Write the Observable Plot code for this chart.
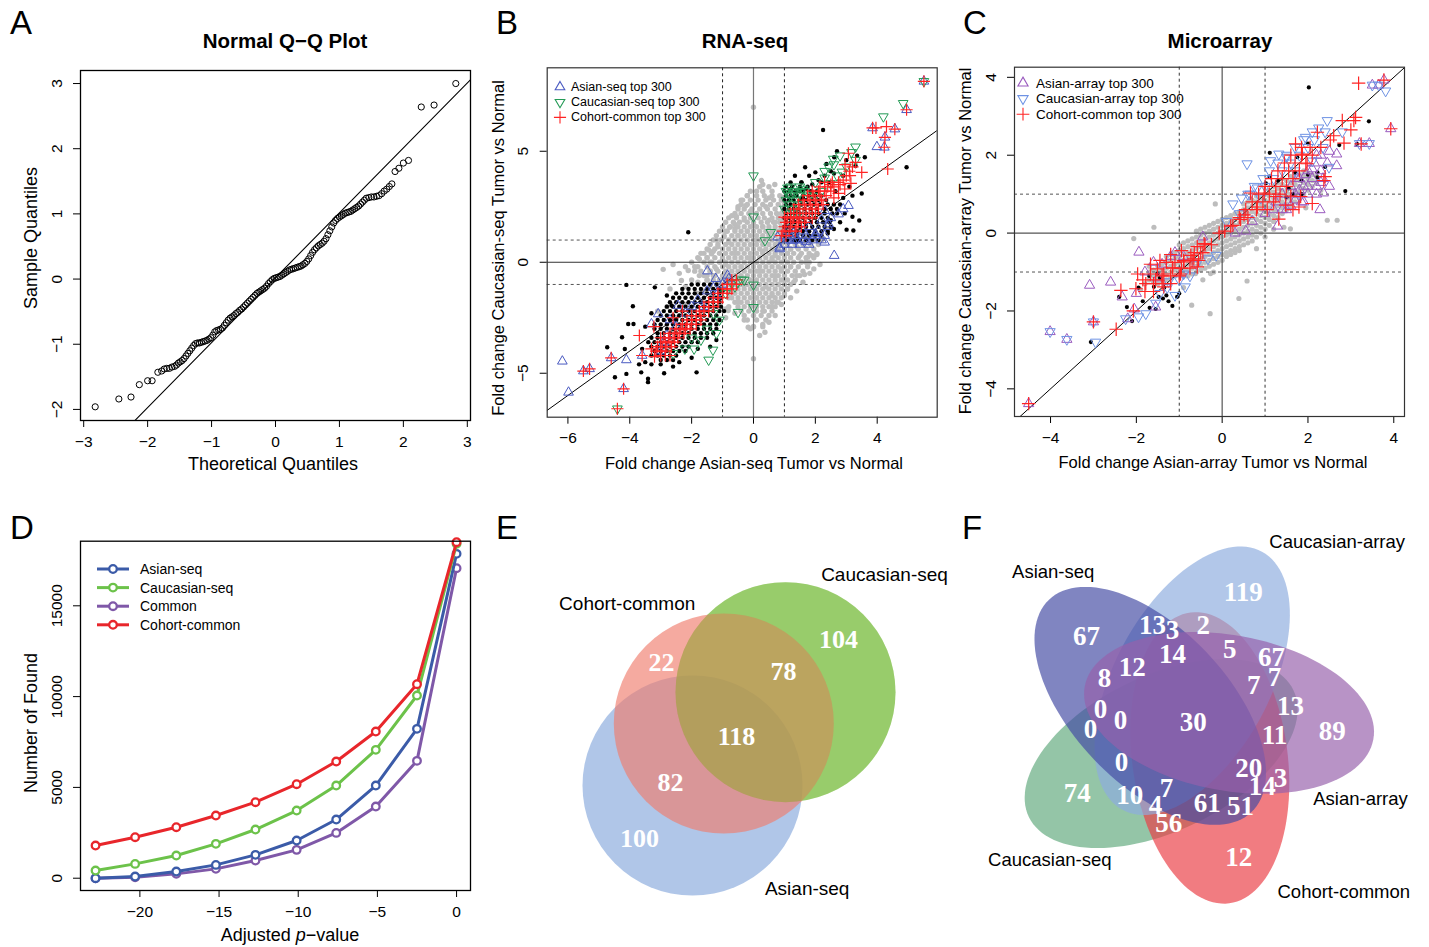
<!DOCTYPE html>
<html><head><meta charset="utf-8">
<script src="https://cdn.jsdelivr.net/npm/d3@7"></script>
<script src="https://cdn.jsdelivr.net/npm/@observablehq/plot@0.6"></script>
<style>
html,body{margin:0;padding:0;background:#fff;}
#root{position:relative;width:1429px;height:947px;overflow:hidden;font-family:"Liberation Sans",Arial,Helvetica,sans-serif;}
</style></head><body><div id="root"></div>
<script>
// ================= DATA =================
// A: Normal Q-Q plot (theoretical, sample)
const qqPoints = "-2.82,-1.96 -2.45,-1.84 -2.26,-1.81 -2.13,-1.62 -2.0,-1.56 -1.93,-1.56 -1.84,-1.43 -1.78,-1.41 -1.74,-1.38 -1.70,-1.37 -1.66,-1.37 -1.62,-1.35 -1.58,-1.34 -1.55,-1.32 -1.52,-1.29 -1.49,-1.27 -1.46,-1.25 -1.43,-1.22 -1.40,-1.18 -1.37,-1.14 -1.34,-1.10 -1.31,-1.06 -1.28,-1.02 -1.25,-0.99 -1.22,-0.98 -1.19,-0.98 -1.16,-0.97 -1.13,-0.96 -1.10,-0.95 -1.07,-0.94 -1.04,-0.92 -1.01,-0.90 -0.98,-0.86 -0.95,-0.81 -0.92,-0.79 -0.89,-0.78 -0.86,-0.77 -0.83,-0.75 -0.80,-0.71 -0.77,-0.67 -0.74,-0.63 -0.71,-0.60 -0.68,-0.58 -0.65,-0.56 -0.62,-0.53 -0.59,-0.51 -0.56,-0.48 -0.53,-0.46 -0.50,-0.43 -0.47,-0.40 -0.44,-0.37 -0.41,-0.34 -0.38,-0.31 -0.35,-0.28 -0.32,-0.25 -0.29,-0.22 -0.26,-0.20 -0.23,-0.18 -0.20,-0.16 -0.17,-0.14 -0.14,-0.11 -0.11,-0.07 -0.08,-0.04 -0.05,-0.01 -0.02,0.01 0.01,0.02 0.04,0.03 0.07,0.04 0.10,0.06 0.13,0.08 0.16,0.10 0.19,0.12 0.22,0.14 0.25,0.15 0.28,0.16 0.31,0.17 0.34,0.18 0.37,0.19 0.40,0.20 0.43,0.22 0.46,0.24 0.49,0.27 0.52,0.31 0.55,0.36 0.58,0.41 0.61,0.45 0.64,0.48 0.67,0.51 0.70,0.53 0.73,0.55 0.76,0.58 0.79,0.62 0.82,0.68 0.85,0.74 0.88,0.80 0.91,0.86 0.94,0.90 0.97,0.93 1.00,0.95 1.03,0.97 1.06,0.99 1.09,1.01 1.12,1.02 1.15,1.03 1.18,1.04 1.21,1.06 1.24,1.08 1.27,1.10 1.30,1.12 1.33,1.15 1.36,1.18 1.39,1.21 1.42,1.24 1.46,1.25 1.50,1.26 1.54,1.26 1.58,1.27 1.62,1.28 1.66,1.31 1.70,1.35 1.74,1.38 1.78,1.42 1.82,1.46 1.87,1.65 1.93,1.70 2.00,1.78 2.08,1.82 2.28,2.64 2.48,2.67 2.82,3.00";
const qqLine = {slope: 0.996, intercept: 0.02};

// B: RNA-seq fold changes (x = Asian-seq, y = Caucasian-seq)
// dense background cloud, written as rows "y:x x x;..."
const grayBRows = "3.4:0.2 0.5;3.2:-0.1 0.3 0.6;3.0:-0.2 0.1 0.35 0.6 0.85;2.8:-0.35 -0.1 0.15 0.4 0.65 0.9;2.6:-0.4 -0.2 0.05 0.3 0.55 0.8 1.0;2.4:-0.5 -0.3 -0.05 0.2 0.45 0.7 0.95;2.2:-0.6 -0.4 -0.15 0.1 0.3 0.55 0.75 0.95;2.0:-0.8 -0.55 -0.3 -0.1 0.15 0.35 0.6 0.8 1.0;1.8:-0.9 -0.65 -0.45 -0.2 0.0 0.25 0.45 0.65 0.85 1.05;1.6:-1.0 -0.75 -0.5 -0.3 -0.1 0.1 0.3 0.5 0.7 0.9 1.1;1.4:-1.1 -0.85 -0.6 -0.4 -0.2 0.0 0.2 0.4 0.6 0.8 1.0 1.2;1.2:-1.2 -0.95 -0.7 -0.5 -0.3 -0.1 0.1 0.3 0.5 0.7 0.9 1.1 1.35;1.0:-1.3 -1.05 -0.8 -0.6 -0.4 -0.2 0.0 0.2 0.4 0.6 0.8 1.0 1.25 1.5 1.75 2.0;0.8:-1.4 -1.15 -0.9 -0.7 -0.5 -0.3 -0.1 0.1 0.3 0.5 0.7 0.9 1.1 1.35 1.6 1.85 2.1;0.6:-1.5 -1.25 -1.0 -0.8 -0.6 -0.4 -0.2 0.0 0.2 0.4 0.6 0.8 1.0 1.2 1.45 1.7 1.95;0.4:-1.6 -1.35 -1.1 -0.9 -0.7 -0.5 -0.3 -0.1 0.1 0.3 0.5 0.7 0.9 1.1 1.3 1.55 1.8 2.05;0.2:-1.8 -1.5 -1.25 -1.0 -0.8 -0.6 -0.4 -0.2 0.0 0.2 0.4 0.6 0.8 1.0 1.2 1.45 1.7 1.95;0.0:-2.0 -1.6 -1.35 -1.1 -0.9 -0.7 -0.5 -0.3 -0.1 0.1 0.3 0.5 0.7 0.9 1.1 1.3 1.55 1.8;-0.2:-2.2 -1.8 -1.5 -1.25 -1.0 -0.8 -0.6 -0.4 -0.2 0.0 0.2 0.4 0.6 0.8 1.0 1.2 1.45 1.75;-0.4:-1.9 -1.7 -1.4 -1.15 -0.9 -0.7 -0.5 -0.3 -0.1 0.1 0.3 0.5 0.7 0.9 1.1 1.35 1.6;-0.6:-1.75 -1.5 -1.25 -1.0 -0.8 -0.6 -0.4 -0.2 0.0 0.2 0.4 0.6 0.8 1.0 1.25 1.5;-0.8:-1.5 -1.3 -1.1 -0.9 -0.7 -0.5 -0.3 -0.1 0.1 0.3 0.5 0.7 0.9 1.1 1.35;-1.0:-1.0 -0.8 -0.6 -0.4 -0.2 0.0 0.2 0.4 0.6 0.8 1.0 1.2;-1.2:-0.9 -0.7 -0.5 -0.3 -0.1 0.1 0.3 0.5 0.7 0.9 1.1;-1.4:-0.8 -0.6 -0.4 -0.2 0.0 0.2 0.4 0.6 0.8 1.0;-1.6:-0.7 -0.5 -0.3 -0.1 0.1 0.3 0.5 0.7 0.9;-1.8:-0.6 -0.4 -0.2 0.0 0.2 0.4 0.6 0.8;-2.0:-0.8 -0.5 -0.3 -0.1 0.1 0.3 0.5 0.7;-2.2:-0.4 -0.15 0.1 0.35 0.6;-2.4:-0.3 0.0 0.25 0.5;-2.6:-0.2 0.1 0.4;-2.9:0.0 0.3";
const grayB = "0.0,6.98 0.0,-4.35 0.37,-3.15 -0.1,0.2 0.3,0.5 -0.4,-0.2 0.6,0.1 0.2,-0.4 -0.6,0.4 0.8,0.9 -0.9,-0.6 1.1,0.4 -0.3,-1.0 0.5,1.3 -1.2,-0.3 0.9,-0.3 -0.7,-1.3 0.1,1.0 1.3,1.1 -1.4,-1.1 0.4,-1.1 -0.2,1.4 1.0,-0.8 -1.0,0.1 -0.8,0.9 1.2,-0.2 0.7,0.3 -0.5,-0.7 -0.9,-0.1 1.0,1.2 -1.1,-0.9 1.4,0.7 -1.3,-0.6 0.9,1.5 1.2,0.6 -1.0,-1.2 0.3,1.6 0.7,-0.6 -0.5,1.2 1.5,1.3 -1.5,-0.8 1.6,0.9 -1.6,-1.3 0.0,1.7 0.5,1.9 1.2,1.6 -0.3,1.9 1.7,1.2 -1.4,-0.4 -0.6,1.5 0.9,1.9 -1.3,-1.5 -0.5,-1.8 0.7,1.8 -1.6,-0.6 1.5,0.3 -1.1,-1.7 0.9,2.2 -1.8,-1.4 1.6,1.4 0.6,-1.5 0.4,2.5 -1.3,0.5 1.4,-0.6 -0.9,-2.1 0.1,-1.6 -0.1,2.3 -2.0,-0.8 1.7,0.0 0.3,-2.2 -0.6,1.7 1.0,2.7 -2.2,-1.9 0.8,-1.0 -1.5,0.2 -0.4,2.8 -2.4,-0.5 -2.6,-0.1 -2.92,-0.32 -2.11,-0.37 -2.33,-0.82 -1.9,-0.2 -1.7,0.4 -1.36,0.38 -1.2,1.0 -0.9,1.4 -0.77,1.58 -0.7,2.1 -0.5,2.5 -0.2,3.0 0.1,3.2 0.3,3.5 0.69,3.5 0.91,2.93 0.5,2.9 0.26,3.68 1.82,-0.5 1.76,0.24 1.98,1.2 1.6,-0.9 1.4,-1.3 1.2,-1.6 1.1,-1.2 0.9,-1.9 0.7,-2.4 0.5,-2.7 0.6,-2.0 0.2,-3.3 -0.1,-3.0 0.3,-2.8 2.2,1.0 1.9,0.3 2.4,1.5 1.3,-0.9 -1.4,0.0 -1.8,-0.9 -2.2,-1.1 -0.6,-2.3 -0.3,-2.6 0.0,-2.9 -0.8,-1.6 -1.7,-1.7 -2.0,-2.2 -2.5,-2.5 -2.8,-2.0 -2.3,-2.9 -1.2,-2.0 -0.9,-2.5 -2.7,-1.2 -3.1,-2.2 -2.6,-3.1 -0.82,-2.17 -0.17,-2.93 -1.15,0.7 -1.45,0.55 -1.75,0.15 -0.95,1.15 -0.55,2.05 -0.25,2.55 2.05,0.35 2.15,-0.1 1.95,-0.3 1.65,-0.55 1.0,-1.5 0.75,-1.8";
const blackBRows = "3.6:1.2 1.55 2.2 2.45;3.4:1.05 1.25 1.5 1.75;3.2:1.0 1.15 1.35 1.6 1.85 2.05;3.0:1.05 1.2 1.4 1.6 1.8 2.0 2.2;2.8:1.0 1.15 1.3 1.5 1.7 1.9 2.1 2.35;2.6:1.05 1.2 1.35 1.55 1.75 1.95 2.15 2.4 2.6;2.4:1.0 1.15 1.3 1.45 1.65 1.85 2.05 2.3 2.5 2.7;2.2:1.05 1.2 1.35 1.5 1.7 1.9 2.1 2.3 2.55;2.0:1.0 1.15 1.3 1.45 1.6 1.8 2.0 2.2 2.4;1.8:1.05 1.2 1.35 1.5 1.65 1.85 2.05 2.25 2.45;1.6:1.0 1.15 1.3 1.5 1.7 1.9 2.1 2.3 2.5;1.4:1.05 1.2 1.4 1.6 1.8 2.0 2.2 2.4;1.2:1.0 1.2 1.4 1.6 1.8 2.0 2.2;1.0:1.1 1.3 1.5 1.7 1.9 2.1;-1.0:-2.0 -1.8 -1.6 -1.4 -1.2;-1.2:-2.3 -2.1 -1.9 -1.7 -1.5 -1.3 -1.1;-1.4:-2.5 -2.3 -2.1 -1.9 -1.7 -1.5 -1.3 -1.1;-1.6:-2.6 -2.4 -2.2 -2.0 -1.8 -1.6 -1.4 -1.2 -1.05;-1.8:-2.7 -2.5 -2.3 -2.1 -1.9 -1.7 -1.5 -1.3 -1.1;-2.0:-2.8 -2.6 -2.4 -2.2 -2.0 -1.8 -1.6 -1.4 -1.2 -1.05;-2.2:-2.9 -2.7 -2.5 -2.3 -2.1 -1.9 -1.7 -1.5 -1.3 -1.1;-2.4:-3.0 -2.8 -2.6 -2.4 -2.2 -2.0 -1.8 -1.6 -1.4 -1.2;-2.6:-3.1 -2.9 -2.7 -2.5 -2.3 -2.1 -1.9 -1.7 -1.5 -1.3 -1.1;-2.8:-3.2 -3.0 -2.8 -2.6 -2.4 -2.2 -2.0 -1.8 -1.6 -1.4 -1.2;-3.0:-3.2 -3.0 -2.8 -2.6 -2.4 -2.2 -2.0 -1.8 -1.6 -1.4 -1.2;-3.2:-3.1 -2.9 -2.7 -2.5 -2.3 -2.1 -1.9 -1.7 -1.5 -1.3;-3.4:-3.3 -3.1 -2.9 -2.7 -2.5 -2.3 -2.1 -1.9 -1.7 -1.5;-3.6:-3.2 -3.0 -2.8 -2.6 -2.4 -2.2 -2.0 -1.8;-3.8:-3.3 -3.1 -2.9 -2.7 -2.5 -2.3 -2.1;-4.0:-3.2 -3.0 -2.8 -2.6 -2.4;-4.2:-3.3 -3.1 -2.9 -2.7 -2.5;-4.4:-3.0 -2.8 -2.6";
const blackB = "1.05,1.6 1.15,2.8 1.2,3.3 1.35,3.0 1.5,3.2 1.4,1.2 2.4,1.3 2.6,1.5 2.5,1.9 2.7,2.2 2.8,2.6 1.6,2.9 1.7,3.3 1.9,3.5 2.1,3.7 1.8,3.9 2.0,4.05 1.67,4.28 2.36,4.43 2.61,4.73 2.5,4.1 2.9,3.9 3.1,3.4 3.3,4.35 3.6,4.73 3.0,4.6 2.7,5.0 2.25,5.96 4.95,4.28 1.34,3.9 3.42,1.88 3.01,1.47 3.23,1.43 3.2,2.05 2.9,2.9 3.2,3.0 2.65,3.2 1.4,0.95 2.8,1.8 3.5,3.1 2.95,2.2 1.55,3.6 3.35,4.8 2.3,3.9 2.6,4.0 -3.19,-1.13 -2.65,-1.95 -2.11,1.35 -4.11,-1.02 -3.9,-1.98 -4.05,-2.78 -3.88,-2.78 -4.25,-3.38 -4.73,-3.83 -4.16,-3.91 -4.48,-5.18 -4.11,-5.03 -3.63,-4.96 -3.41,-5.25 -3.41,-5.4 -2.89,-5.0 -1.84,-4.96 -3.5,-4.5 -3.3,-4.6 -3.6,-3.9 -3.4,-3.6 -2.4,-4.5 -2.0,-4.3 -1.8,-3.9 -3.0,-4.6 -2.6,-4.7 -3.7,-4.6 -1.0,-1.3 -0.95,-2.2 -3.3,-2.3 -2.8,-1.5 -3.5,-2.9 -1.4,-3.8 -1.2,-3.5 -2.2,-4.0";
const blueBRows = "1.6:1.8 2.4;1.4:1.1 1.6 2.1;1.2:1.0 1.35 1.7 2.0 2.3;1.0:1.1 1.4 1.6 1.9 2.2;0.8:1.0 1.25 1.5 1.8;0.6:0.85";
const blueB = "-6.18,-4.46 -5.98,-5.86 -4.11,-4.4 2.61,0.3 3.99,5.2 -1.49,-0.4 -1.22,-0.74 -0.84,-0.59 -3.08,-2.33 -3.3,-2.78 -2.44,-1.95 0.84,0.67 0.78,1.13 1.27,0.98 1.7,0.92 2.0,1.28 2.43,1.72 2.75,2.17 3.07,2.55 1.3,1.3 2.3,2.32 2.9,2.4 2.2,1.9 2.5,2.0 -3.6,-4.2 -4.6,-4.31 -2.0,-2.0 -1.8,-1.7 -2.5,-2.9 -2.8,-3.3 -3.0,-4.0 5.51,8.15 4.95,6.87 4.25,5.63 4.23,5.18 4.57,6.0 3.85,6.05 -5.5,-4.9 -5.3,-4.8 -4.2,-5.7 -1.0,-1.0 -0.8,-0.75 -1.3,-1.15 2.3,0.9 -1.5,-1.3 -2.2,-2.3 -2.7,-2.6 -1.2,-1.5 -2.9,-3.6 -1.6,-2.0";
const greenBRows = "3.4:1.2 1.5;3.2:1.05 1.35 1.65;3.0:1.2 1.45;2.8:1.05 1.35;2.6:1.15 1.45;2.4:1.0 1.25;2.3:1.5";
const greenB = "4.84,7.16 4.2,6.56 0.0,3.9 0.0,2.05 0.0,-1.02 0.0,-2.03 0.37,0.98 0.56,1.35 -0.5,-2.25 -0.39,-0.79 -1.45,-4.4 -1.31,-3.95 -1.92,-3.9 -2.22,-3.9 1.12,3.1 1.3,3.1 1.5,3.15 1.28,2.2 1.99,2.98 2.58,4.65 2.8,4.8 3.17,4.95 2.86,4.07 2.43,4.3 2.49,3.55 2.7,3.9 3.0,4.3 1.6,3.3 1.8,3.0 2.2,3.2 2.0,3.6 2.3,4.1 2.6,4.4 3.3,5.2 -0.7,-0.95 -0.6,-1.1 -0.5,-0.9 -0.3,-0.8 -1.2,-3.2 -1.5,-3.0 -1.7,-3.5 -2.6,-4.1 -4.4,-6.6 5.51,8.15 1.1,3.35 2.3,3.8 3.3,4.6 -0.9,-1.4 -1.1,-2.6 -1.3,-2.3 -2.0,-3.4";
const redBRows = "3.6:2.3 2.55 2.75;3.4:2.15 2.4 2.6;3.2:1.9 2.1 2.3 2.5;3.0:1.75 1.95 2.15 2.35;2.8:1.6 1.8 2.0 2.2;2.6:1.45 1.65 1.85 2.05 2.25;2.4:1.3 1.5 1.7 1.9 2.1;2.2:1.2 1.4 1.6 1.8 2.0;2.0:1.1 1.3 1.5 1.7 1.9;1.8:1.05 1.25 1.45 1.65;1.6:1.0 1.2 1.4 1.55;1.4:0.95 1.15 1.35;1.2:0.9 1.05;-0.8:-0.7 -0.55;-1.0:-0.85 -0.7 -0.55;-1.2:-1.0 -0.85 -0.7;-1.4:-1.15 -1.0 -0.85;-1.6:-1.3 -1.15 -1.0;-1.8:-1.45 -1.3 -1.15;-2.0:-1.6 -1.45 -1.3;-2.2:-1.75 -1.6 -1.45;-2.4:-2.0 -1.85 -1.7;-2.6:-2.15 -2.0 -1.85 -1.7;-2.8:-2.3 -2.15 -2.0 -1.85;-3.0:-2.5 -2.35 -2.2 -2.05;-3.2:-2.7 -2.55 -2.4 -2.25;-3.4:-2.9 -2.75 -2.6 -2.45;-3.6:-3.0 -2.85 -2.7 -2.55;-3.8:-3.1 -2.95 -2.8 -2.65;-4.0:-3.15 -3.0 -2.85;-4.2:-3.0 -2.85 -2.7";
const redB = "2.8,3.5 2.9,3.7 3.0,3.9 3.1,4.1 3.2,4.3 3.3,4.5 2.75,3.1 2.95,3.3 3.15,3.55 2.6,2.9 3.07,4.91 3.5,4.05 2.96,4.4 3.12,3.9 2.5,3.5 5.51,8.15 4.95,6.87 3.85,6.05 3.96,6.05 4.3,6.11 4.57,6.0 4.25,5.63 4.23,5.18 4.34,4.2 1.0,2.03 1.2,2.03 1.4,2.03 -3.2,-4.25 -3.0,-3.4 -4.4,-6.6 -4.2,-5.7 -5.5,-4.9 -5.3,-4.8 -3.69,-3.3 -4.6,-4.31 -3.22,-2.9 -3.6,-4.2 -3.3,-3.9 -2.6,-2.5 -2.3,-2.2";
const diagB = {slope: 1, intercept: 0};

// C: Microarray fold changes (x = Asian-array, y = Caucasian-array)
// dense background band, written as columns "x:y y y;..."
const grayCCols = "-1.7:-1.2 -1.0;-1.6:-1.25 -1.1 -0.95;-1.5:-1.3 -1.15 -1.0 -0.85;-1.4:-1.25 -1.1 -0.95 -0.8;-1.3:-1.2 -1.05 -0.9 -0.75 -0.6;-1.2:-1.15 -1.0 -0.85 -0.7 -0.55;-1.1:-1.1 -0.95 -0.8 -0.65 -0.5;-1.0:-1.05 -0.9 -0.75 -0.6 -0.45 -0.3;-0.9:-1.1 -0.95 -0.85 -0.7 -0.55 -0.4 -0.25;-0.8:-1.1 -0.95 -0.8 -0.65 -0.5 -0.35 -0.2;-0.7:-1.05 -0.9 -0.75 -0.6 -0.45 -0.3 -0.15;-0.6:-1.0 -0.85 -0.7 -0.55 -0.4 -0.25 -0.1 0.05;-0.5:-0.95 -0.8 -0.65 -0.5 -0.35 -0.2 -0.05 0.1;-0.4:-0.9 -0.75 -0.6 -0.45 -0.3 -0.15 0.0 0.15;-0.3:-0.85 -0.7 -0.55 -0.4 -0.25 -0.1 0.05 0.2;-0.2:-0.8 -0.65 -0.5 -0.35 -0.2 -0.05 0.1 0.25;-0.1:-0.75 -0.6 -0.45 -0.3 -0.15 0.0 0.15 0.3;0.0:-0.7 -0.55 -0.4 -0.25 -0.1 0.05 0.2 0.35;0.1:-0.6 -0.5 -0.35 -0.2 -0.05 0.1 0.25 0.4;0.2:-0.55 -0.45 -0.3 -0.15 0.0 0.15 0.3 0.45;0.3:-0.5 -0.4 -0.25 -0.1 0.05 0.2 0.35 0.5;0.4:-0.45 -0.35 -0.2 -0.05 0.1 0.25 0.4 0.55;0.5:-0.3 -0.15 0.0 0.15 0.3 0.45 0.6 0.75;0.6:-0.25 -0.1 0.05 0.2 0.35 0.5 0.65 0.8;0.7:-0.2 -0.05 0.1 0.25 0.4 0.55 0.7 0.85;0.8:-0.1 0.05 0.2 0.35 0.5 0.65 0.8 0.95;0.9:0.0 0.15 0.3 0.45 0.6 0.75 0.9;1.0:0.1 0.25 0.4 0.55 0.7 0.85 1.0;1.1:0.2 0.35 0.5 0.65 0.8 0.95 1.1;1.2:0.3 0.45 0.6 0.75 0.9 1.05 1.2;1.3:0.4 0.55 0.7 0.85 1.0 1.15 1.3;1.4:0.5 0.65 0.8 0.95 1.1 1.25 1.4;1.5:0.6 0.75 0.9 1.05 1.2 1.35;1.6:0.7 0.85 1.0 1.15 1.3 1.45;1.7:0.8 0.95 1.1 1.25 1.4 1.55;1.8:0.9 1.05 1.2 1.35 1.5;1.9:1.0 1.15 1.3 1.45 1.6;2.0:1.1 1.25 1.4 1.55;2.1:1.2 1.35 1.5;2.2:1.3 1.45";
const grayC = "-2.06,-0.14 -1.59,0.15 1.59,0.11 1.44,0.15 2.45,0.33 2.68,0.33 0.39,-1.68 0.58,-1.23 -0.28,-2.07 -0.71,-1.85 -0.16,0.75 -0.27,-1.04 -0.62,-1.04 -1.8,-1.3 -1.7,-0.85 1.95,0.65 2.3,1.1 0.8,-0.4 -0.2,-1.0 -1.9,-1.45 1.2,0.1 -0.45,-1.2 -0.9,-1.4 1.0,-0.1";
const blackC = "2.02,3.74 3.42,2.87 2.87,1.08 1.11,2.06 2.73,2.26 3.14,2.29 2.22,1.43 2.22,1.56 2.0,1.5 1.85,1.35 1.5,0.92 1.65,1.0 1.85,1.0 1.02,1.28 1.1,1.45 1.3,1.35 1.55,1.15 1.7,1.55 2.4,1.7 2.0,2.3 1.75,1.95 -3.06,-2.8 -2.4,-1.64 -2.22,-1.9 -2.1,-2.26 -1.69,-1.92 -1.48,-1.64 -1.38,-1.68 -1.3,-1.6 -1.16,-1.87 -1.05,-1.64 -1.59,-1.38 -1.51,-1.04 -1.45,-1.15 -1.7,-1.1 -1.25,-1.75 -1.85,-1.75 -1.55,-1.95 -1.0,-1.55 -1.95,-1.4 -1.35,-1.4";
const purpleCRows = "1.2:1.6 1.9 2.2;1.0:1.4 1.7 2.0;0.8:1.25 1.55 1.85;0.6:1.2 1.5;1.4:1.8 2.1 2.35;1.6:2.0 2.3;1.8:2.15 2.45;2.0:2.3";
const purpleC = "-1.94,-0.49 -3.09,-1.34 -2.6,-1.26 -2.33,-1.64 2.67,1.73 2.67,2.03 2.36,1.03 2.28,0.6 1.29,0.18 0.55,0.05 3.93,2.68 3.77,3.93 3.65,3.8 3.5,3.8 -3.0,-2.28 -4.01,-2.53 -3.62,-2.73 -4.51,-4.38 3.2,2.3 3.43,2.3 1.8,1.1 2.0,1.2 1.9,0.8 1.6,0.7 1.7,0.85 2.2,1.0 2.3,1.3 2.5,1.2 1.4,0.6 1.0,0.5 0.7,0.3 0.3,0.0 -0.45,-0.1 -1.2,-0.6 -1.4,-0.8 -1.6,-0.75 -1.5,-1.15 -1.1,-0.5 -0.9,-0.6 -1.8,-1.0 -2.0,-1.55 -1.55,-1.9 -2.2,-2.2 -2.05,-1.95 1.95,1.5 2.1,1.65 2.5,2.1 2.2,2.0 1.75,1.4";
const lightblueCRows = "2.4:1.9 2.15;2.2:1.7 2.0;2.0:1.5 1.8;1.8:1.3 1.6;1.6:1.1 1.4;1.4:0.95 1.2;1.2:0.75 1.0;1.0:0.6;2.6:2.1 2.4";
const lightblueC = "2.45,2.89 2.25,2.7 1.94,2.46 0.58,1.78 1.32,2.03 1.13,1.86 1.5,1.95 2.49,1.69 0.25,0.75 0.45,0.9 0.65,1.0 0.82,1.16 -0.33,-0.66 -0.14,-0.57 -0.86,-1.38 -1.0,-1.2 -1.78,-2.07 -1.95,-2.15 -1.55,-1.8 -1.28,-1.4 -2.95,-2.8 3.81,3.65 3.65,3.8 3.5,3.8 -3.0,-2.28 -4.01,-2.53 -3.62,-2.73 -2.25,-2.2 3.2,2.3 3.43,2.3 2.8,2.6 0.9,0.9 0.4,0.5 0.1,0.3 -0.6,-0.8 -0.75,-1.1 -1.1,-1.6 -1.45,-1.55 2.1,1.85 2.35,2.2 1.7,1.6 -0.9,-1.05 -1.25,-1.25";
const redCRows = "2.2:1.85 2.05 2.3;2.0:1.6 1.85 2.1;1.8:1.45 1.7 1.95;1.6:1.3 1.55 1.8;1.4:1.15 1.4 1.65;1.2:1.0 1.25 1.5;1.0:0.85 1.1 1.35;0.8:0.7 0.95 1.2;0.6:0.55 0.8;0.4:0.4 0.6;0.2:0.25;-0.3:-0.4 -0.25;-0.5:-0.65 -0.45;-0.7:-0.9 -0.7 -0.55;-0.9:-1.15 -0.95 -0.75;-1.1:-1.4 -1.2 -1.0;-1.3:-1.6 -1.4 -1.2;-1.5:-1.8 -1.6";
const redC = "3.18,3.85 3.77,3.93 3.93,2.68 3.07,2.89 2.8,2.89 3.0,2.65 3.11,2.97 2.84,2.31 3.24,2.29 2.52,2.39 2.22,2.59 2.6,2.5 1.71,2.29 1.87,2.03 1.98,1.78 2.37,1.35 2.4,1.45 2.1,0.76 1.79,0.67 1.48,0.72 1.25,0.94 0.98,1.03 1.05,0.6 1.32,0.36 0.82,0.67 0.66,1.03 0.51,0.47 0.43,0.35 0.2,0.18 -0.07,0.0 0.06,0.05 1.6,0.95 1.83,0.94 1.65,0.6 -0.42,-0.27 -0.58,-0.35 -0.73,-0.57 -0.89,-0.74 -1.16,-0.89 -1.2,-0.55 -1.36,-1.05 -1.51,-0.92 -1.67,-1.05 -1.78,-1.3 -1.97,-1.05 -2.01,-1.43 -2.36,-1.47 -1.85,-1.2 -1.36,-1.38 -0.97,-1.05 -0.66,-0.66 -0.58,-0.87 -1.1,-0.75 -1.3,-0.75 -1.67,-0.8 -1.45,-0.7 -2.07,-2.0 -2.47,-2.47 -4.51,-4.38 -3.0,-2.28 -1.55,-1.2 -0.95,-0.45 -0.5,-0.5";
const diagC = {slope: 1, intercept: 0};

// D: number found vs adjusted p-value
const pAdjusted = [-22.8, -20.3, -17.7, -15.2, -12.7, -10.1, -7.6, -5.1, -2.5, 0];
const foundAsianSeq = [0, 92, 367, 734, 1285, 2074, 3231, 5103, 8223, 17860];
const foundCaucasianSeq = [422, 789, 1248, 1891, 2680, 3726, 5103, 7067, 10059, 18410];
const foundCommon = [0, 55, 239, 514, 973, 1560, 2496, 3946, 6461, 17070];
const foundCohortCommon = [1799, 2258, 2808, 3451, 4185, 5176, 6424, 8076, 10683, 18502];
const seriesNamesD = ["Asian-seq", "Caucasian-seq", "Common", "Cohort-common"];

// E: 3-set Venn
const setsE = ["Asian-seq", "Cohort-common", "Caucasian-seq"];
const countsE = [100, 82, 22, 118, 78, 104];

// F: 5-set Venn
const setsF = ["Caucasian-seq", "Cohort-common", "Caucasian-array", "Asian-seq", "Asian-array"];
const countsF = ["119","67","13","3","2","14","5","67","7","7","12","8","0","0","0","30","13","11","89","0","20","14","3","74","10","7","4","56","61","51","12"];

// ================= LAYOUT / STYLE =================
const root = document.getElementById("root");
const fmt = d3.format("d");
const pts = s => s.trim().split(/\s+/).map(p => { const [x, y] = p.split(",").map(Number); return {x, y}; });
const rowsY = s => s.split(";").flatMap(r => { const [y, xs] = r.split(":"); return xs.trim().split(/\s+/).map(x => ({x: +x, y: +y})); });
const colsX = s => s.split(";").flatMap(c => { const [x, ys] = c.split(":"); return ys.trim().split(/\s+/).map(y => ({x: +x, y: +y})); });
const fitLine = (fit, dom) => dom.map(x => ({x, y: fit.intercept + fit.slope * x}));
function put(el, left, top) { el.style.position = "absolute"; el.style.left = left + "px"; el.style.top = top + "px"; root.appendChild(el); }
const baseStyle = {background: "transparent", fontFamily: "Liberation Sans, Arial, sans-serif", fontSize: "15.5px", color: "black", overflow: "visible"};
const ax = (ticks) => Plot.axisX({ticks, tickSize: 7, tickPadding: 8, tickFormat: fmt, label: null});
const ay = (ticks) => Plot.axisY({ticks, tickSize: 7, tickPadding: 12, tickRotate: -90, tickFormat: fmt, label: null});

// ---- A ----
const xA = [-3.05, 3.05], yA = [-2.17, 3.2];
put(Plot.plot({
  width: 480, height: 480, marginLeft: 80, marginRight: 10, marginTop: 70, marginBottom: 60,
  x: {domain: xA}, y: {domain: yA}, style: baseStyle,
  marks: [
    Plot.line(fitLine(qqLine, xA), {x: "x", y: "y", stroke: "black", strokeWidth: 1.1, clip: true}),
    Plot.dot(pts(qqPoints), {x: "x", y: "y", r: 3.1, stroke: "black", strokeWidth: 1, fill: "none"}),
    ax([-3, -2, -1, 0, 1, 2, 3]), ay([-2, -1, 0, 1, 2, 3]),
    Plot.frame({stroke: "black", strokeWidth: 1.3})
  ]
}), 0, 0);

// ---- B ----
const colB = {blue: "#4a5ac2", green: "#239a55", red: "#ff2424"};
const xB = [-6.67, 5.94], yB = [-6.98, 8.76];
put(Plot.plot({
  width: 470, height: 480, marginLeft: 66.7, marginRight: 13.3, marginTop: 67.3, marginBottom: 63.3,
  x: {domain: xB}, y: {domain: yB}, style: baseStyle,
  marks: [
    Plot.dot(rowsY(grayBRows).concat(pts(grayB)), {x: "x", y: "y", r: 2.7, fill: "#bdbdbd"}),
    Plot.ruleX([0], {stroke: "#777", strokeWidth: 1.2}),
    Plot.ruleY([0], {stroke: "#333", strokeWidth: 1}),
    Plot.ruleX([-1, 1], {stroke: "#222", strokeDasharray: "3,3"}),
    Plot.ruleY([-1, 1], {stroke: "#555", strokeDasharray: "3,3"}),
    Plot.line(fitLine(diagB, xB), {x: "x", y: "y", stroke: "black", strokeWidth: 1, clip: true}),
    Plot.dot(rowsY(blackBRows).concat(pts(blackB)), {x: "x", y: "y", r: 2.2, fill: "black"}),
    Plot.dot(rowsY(blueBRows).concat(pts(blueB)), {x: "x", y: "y", symbol: "triangle", r: 3.6, fill: "none", stroke: colB.blue, strokeWidth: 1}),
    Plot.dot(rowsY(greenBRows).concat(pts(greenB)), {x: "x", y: "y", symbol: "triangle", rotate: 180, r: 3.6, fill: "none", stroke: colB.green, strokeWidth: 1}),
    Plot.dot(rowsY(redBRows).concat(pts(redB)), {x: "x", y: "y", symbol: "plus", r: 4, fill: "none", stroke: colB.red, strokeWidth: 1.2}),
    ax([-6, -4, -2, 0, 2, 4]), ay([-5, 0, 5]),
    Plot.frame({stroke: "#333", strokeWidth: 1.2})
  ]
}), 480, 0);

// ---- C ----
const colC = {purple: "#9a5bbf", lightblue: "#6e92e4", red: "#ff2424"};
const xC = [-4.84, 4.25], yC = [-4.71, 4.26];
put(Plot.plot({
  width: 479, height: 480, marginLeft: 64, marginRight: 25, marginTop: 66.7, marginBottom: 64,
  x: {domain: xC}, y: {domain: yC}, style: baseStyle,
  marks: [
    Plot.dot(colsX(grayCCols).concat(pts(grayC)), {x: "x", y: "y", r: 2.6, fill: "#bdbdbd"}),
    Plot.ruleX([0], {stroke: "#555", strokeWidth: 1.2}),
    Plot.ruleY([0], {stroke: "#555", strokeWidth: 1.2}),
    Plot.ruleX([-1, 1], {stroke: "#333", strokeDasharray: "3,3"}),
    Plot.ruleY([-1, 1], {stroke: "#555", strokeDasharray: "3,3"}),
    Plot.line(fitLine(diagC, xC), {x: "x", y: "y", stroke: "black", strokeWidth: 1, clip: true}),
    Plot.dot(pts(blackC), {x: "x", y: "y", r: 2.1, fill: "black"}),
    Plot.dot(rowsY(purpleCRows).concat(pts(purpleC)), {x: "x", y: "y", symbol: "triangle", r: 3.8, fill: "none", stroke: colC.purple, strokeWidth: 1}),
    Plot.dot(rowsY(lightblueCRows).concat(pts(lightblueC)), {x: "x", y: "y", symbol: "triangle", rotate: 180, r: 3.8, fill: "none", stroke: colC.lightblue, strokeWidth: 1}),
    Plot.dot(rowsY(redCRows).concat(pts(redC)), {x: "x", y: "y", symbol: "plus", r: 4.4, fill: "none", stroke: colC.red, strokeWidth: 1.2}),
    ax([-4, -2, 0, 2, 4]), ay([-4, -2, 0, 2, 4]),
    Plot.frame({stroke: "#333", strokeWidth: 1.2})
  ]
}), 950, 0);

// ---- D ----
const colD = {"Asian-seq": "#3b5ba8", "Caucasian-seq": "#6cc24a", "Common": "#7f58a8", "Cohort-common": "#e8262b"};
const valuesD = {"Asian-seq": foundAsianSeq, "Caucasian-seq": foundCaucasianSeq, "Common": foundCommon, "Cohort-common": foundCohortCommon};
const drawOrderD = ["Common", "Asian-seq", "Caucasian-seq", "Cohort-common"];
const marksD = [];
for (const name of drawOrderD) {
  const rows = pAdjusted.map((p, i) => ({p, n: valuesD[name][i]}));
  marksD.push(Plot.line(rows, {x: "p", y: "n", stroke: colD[name], strokeWidth: 3}));
  marksD.push(Plot.dot(rows, {x: "p", y: "n", r: 3.8, fill: "white", stroke: colD[name], strokeWidth: 2.3}));
}
put(Plot.plot({
  width: 480, height: 467, marginLeft: 80, marginRight: 10, marginTop: 60.7, marginBottom: 57,
  x: {domain: [-23.75, 0.88]}, y: {domain: [-677, 18557]}, style: baseStyle,
  marks: [
    ...marksD,
    ax([-20, -15, -10, -5, 0]), ay([0, 5000, 10000, 15000]),
    Plot.frame({stroke: "black", strokeWidth: 1.3})
  ]
}), 0, 480);

// ---- E ----
const circlesE = [
  {set: "Asian-seq", cx: 692, cy: 785, fill: "rgb(123,160,216)", op: 0.6},
  {set: "Caucasian-seq", cx: 785, cy: 691.7, fill: "rgb(106,181,51)", op: 0.6},
  {set: "Cohort-common", cx: 723.3, cy: 723, fill: "rgb(240,124,109)", op: 0.65},
  {set: "Caucasian-seq", cx: 785, cy: 691.7, fill: "rgb(120,185,40)", op: 0.28}
];
const countPosE = [[639, 838], [670, 782], [661, 662], [736, 736], [783, 671], [838, 639]];
const namePosE = {"Asian-seq": [806.7, 888], "Cohort-common": [626.7, 603], "Caucasian-seq": [884, 574]};
put(Plot.plot({
  width: 480, height: 467, margin: 0,
  x: {domain: [480, 960], axis: null}, y: {domain: [480, 947], reverse: true, axis: null}, style: baseStyle,
  marks: [
    ...circlesE.map(c => Plot.dot([c], {x: "cx", y: "cy", r: 110, fill: c.fill, fillOpacity: c.op, stroke: "none"})),
    Plot.text(countsE.map((n, i) => ({n, x: countPosE[i][0], y: countPosE[i][1]})), {x: "x", y: "y", text: d => String(d.n), fill: "white", fontWeight: "bold", fontFamily: "Liberation Serif, Times New Roman, serif", fontSize: 26}),
    Plot.text(setsE.map(s => ({s, x: namePosE[s][0], y: namePosE[s][1]})), {x: "x", y: "y", text: "s", fill: "black", fontSize: 19})
  ]
}), 480, 480);

// ---- F ----
const F_C = [1188, 721.7], F_R = 41.6, F_A = 146.7, F_B = 77.7;
const ellF = {
  "Caucasian-seq": {phi: 131.1, fill: "#62a97e"},
  "Cohort-common": {phi: 59.1, fill: "#ea3e45"},
  "Caucasian-array": {phi: -84.9, fill: "#8dacde"},
  "Asian-seq": {phi: 203.1, fill: "#444ba3"},
  "Asian-array": {phi: -12.9, fill: "#9760ab"}
};
const rad = d => d * Math.PI / 180;
function ellipsePoly(name) {
  const e = ellF[name];
  const cx = F_C[0] + F_R * Math.cos(rad(e.phi)), cy = F_C[1] + F_R * Math.sin(rad(e.phi));
  const psi = rad(e.phi + 23.3);
  const out = [];
  for (let k = 0; k < 120; k++) {
    const t = 2 * Math.PI * k / 120;
    const u = F_A * Math.cos(t), v = F_B * Math.sin(t);
    out.push({x: cx + u * Math.cos(psi) - v * Math.sin(psi), y: cy + u * Math.sin(psi) + v * Math.cos(psi)});
  }
  return out;
}
const countPosF = [[1242.7,591.7],[1086,636],[1152,625],[1172,630],[1202.7,625],[1172,654],[1229.3,649.3],[1271,656.7],[1274,676.7],[1253.3,685],[1131.7,666.7],[1104,678.3],[1100,709.3],[1120,720],[1090,729.3],[1192.7,722.3],[1290,706],[1274,735],[1331.7,730.7],[1121,761.7],[1248.3,768.3],[1261.7,786],[1280,777.7],[1076.7,793.3],[1129.3,795],[1166,788.3],[1155,805],[1168.3,822.7],[1206.7,802.7],[1240,806],[1238.3,856.7]];
const namePosF = {"Caucasian-array": [1336.7, 541.7], "Asian-seq": [1052.7, 571.7], "Asian-array": [1360, 798.3], "Caucasian-seq": [1049.3, 860], "Cohort-common": [1343.3, 891.7]};
put(Plot.plot({
  width: 469, height: 467, margin: 0,
  x: {domain: [960, 1429], axis: null}, y: {domain: [480, 947], reverse: true, axis: null}, style: baseStyle,
  marks: [
    ...setsF.map(s => Plot.line(ellipsePoly(s), {x: "x", y: "y", curve: "linear-closed", fill: ellF[s].fill, fillOpacity: 0.68, stroke: "none"})),
    Plot.text(countsF.map((n, i) => ({n, x: countPosF[i][0], y: countPosF[i][1]})), {x: "x", y: "y", text: "n", fill: "white", fontWeight: "bold", fontFamily: "Liberation Serif, Times New Roman, serif", fontSize: 27}),
    Plot.text(setsF.map(s => ({s, x: namePosF[s][0], y: namePosF[s][1]})), {x: "x", y: "y", text: "s", fill: "black", fontSize: 18.5})
  ]
}), 960, 480);

// ---- Overlay: titles, panel letters, axis titles, legends ----
const ov = d3.create("svg").attr("width", 1429).attr("height", 947)
  .style("position", "absolute").style("left", "0px").style("top", "0px").style("pointer-events", "none")
  .style("font-family", "Liberation Sans, Arial, sans-serif");
function T(x, y, str, size, o = {}) {
  const t = ov.append("text").attr("x", x).attr("y", y).attr("text-anchor", o.anchor || "middle")
    .attr("dominant-baseline", "central").attr("font-size", size).attr("fill", "black").text(str);
  if (o.bold) t.attr("font-weight", "bold");
  if (o.rot) t.attr("transform", `rotate(${o.rot},${x},${y})`);
  return t;
}
[["A", 21, 22], ["B", 507, 22], ["C", 975, 22], ["D", 22, 527], ["E", 507, 527], ["F", 972, 527]].forEach(([s, x, y]) => T(x, y, s, 33));
T(285, 40, "Normal Q\u2212Q Plot", 20.5, {bold: true});
T(745, 40, "RNA-seq", 20.5, {bold: true});
T(1220, 40, "Microarray", 20.5, {bold: true});
T(273, 464, "Theoretical Quantiles", 18);
T(31, 238, "Sample Quantiles", 18, {rot: -90});
T(754, 463, "Fold change Asian-seq Tumor vs Normal", 16.5);
T(498, 248, "Fold change Caucasian-seq Tumor vs Normal", 16.5, {rot: -90});
T(1213, 462, "Fold change Asian-array Tumor vs Normal", 16.5);
T(965, 241, "Fold change Caucasian-array Tumor vs Normal", 16.5, {rot: -90});
T(31, 723, "Number of Found", 18, {rot: -90});
const tp = T(290, 935, "", 18);
tp.append("tspan").text("Adjusted ");
tp.append("tspan").attr("font-style", "italic").text("p");
tp.append("tspan").text("\u2212value");
function sym(x, y, type, size, color, rot = 0, sw = 1) {
  ov.append("path").attr("d", d3.symbol(type, size)()).attr("transform", `translate(${x},${y}) rotate(${rot})`)
    .attr("fill", "none").attr("stroke", color).attr("stroke-width", sw);
}
const legB = [["Asian-seq top 300", d3.symbolTriangle, colB.blue, 0], ["Caucasian-seq top 300", d3.symbolTriangle, colB.green, 180], ["Cohort-common top 300", d3.symbolPlus, colB.red, 0]];
legB.forEach(([s, type, c, r], i) => { const y = 87 + i * 15.2; sym(560, y, type, type === d3.symbolPlus ? 50 : 40, c, r, 1.1); T(571, y, s, 12.5, {anchor: "start"}); });
const legC = [["Asian-array top 300", d3.symbolTriangle, colC.purple, 0], ["Caucasian-array top 300", d3.symbolTriangle, colC.lightblue, 180], ["Cohort-common top 300", d3.symbolPlus, colC.red, 0]];
legC.forEach(([s, type, c, r], i) => { const y = 83 + i * 15.6; sym(1023, y, type, type === d3.symbolPlus ? 55 : 45, c, r, 1.1); T(1036, y, s, 13.5, {anchor: "start"}); });
seriesNamesD.forEach((s, i) => {
  const y = 569 + i * 18.6;
  ov.append("line").attr("x1", 97).attr("x2", 129).attr("y1", y).attr("y2", y).attr("stroke", colD[s]).attr("stroke-width", 3);
  ov.append("circle").attr("cx", 113).attr("cy", y).attr("r", 3.8).attr("fill", "white").attr("stroke", colD[s]).attr("stroke-width", 2.3);
  T(140, y, s, 14, {anchor: "start"});
});
root.appendChild(ov.node());
</script>
</body></html>
